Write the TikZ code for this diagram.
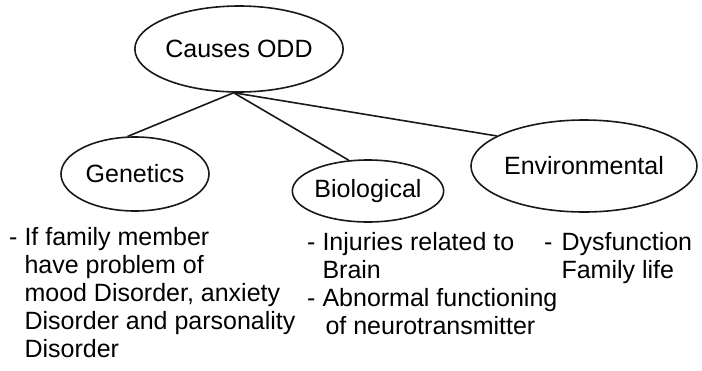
\documentclass[tikz,border=0pt]{standalone}
\usepackage{fontspec}
\setmainfont{Liberation Sans}
\usetikzlibrary{shapes.geometric}
\begin{document}
\begin{tikzpicture}[x=1pt,y=-1pt,
  oval/.style={ellipse,draw=black!90,line width=1.6pt,inner sep=0pt,font=\fontsize{25}{28}\selectfont},
  link/.style={draw=black!90,line width=1.6pt},
  note/.style={anchor=base west,inner sep=0pt,font=\fontsize{25}{28}\selectfont}]
\useasboundingbox (0,0) rectangle (702,370);
\node[oval,minimum width=208pt,minimum height=86pt] (root) at (239,49) {Causes ODD};
\node[oval,minimum width=148pt,minimum height=74pt] (gen) at (135,174) {Genetics};
\node[oval,minimum width=130pt,minimum height=62pt] (bio) at (368,191) {Biological};
\node[oval,minimum width=200pt,minimum height=92pt] (env) at (584,166) {Environmental};
\coordinate (hub) at (root.263);
\draw[link] (hub) -- (gen.101);
\draw[link] (hub) -- (bio.122);
\draw[link] (hub) -- (env.161);
\node[note] (gtext) at (9,245) {\begin{tabular}[t]{@{}l@{\hspace{7pt}}l@{}}
- & If family member\\
 & have problem of\\
 & mood Disorder, anxiety\\
 & Disorder and parsonality\\
 & Disorder
\end{tabular}};
\node[note] (btext) at (307,250) {\begin{tabular}[t]{@{}l@{\hspace{7pt}}l@{}}
- & Injuries related to\\
 & Brain\\
- & Abnormal functioning\\
 & \hspace{3pt}of neurotransmitter
\end{tabular}};
\node[note] (etext) at (544,250) {\begin{tabular}[t]{@{}l@{\hspace{9pt}}l@{}}
- & Dysfunction\\
 & Family life
\end{tabular}};
\end{tikzpicture}
\end{document}
